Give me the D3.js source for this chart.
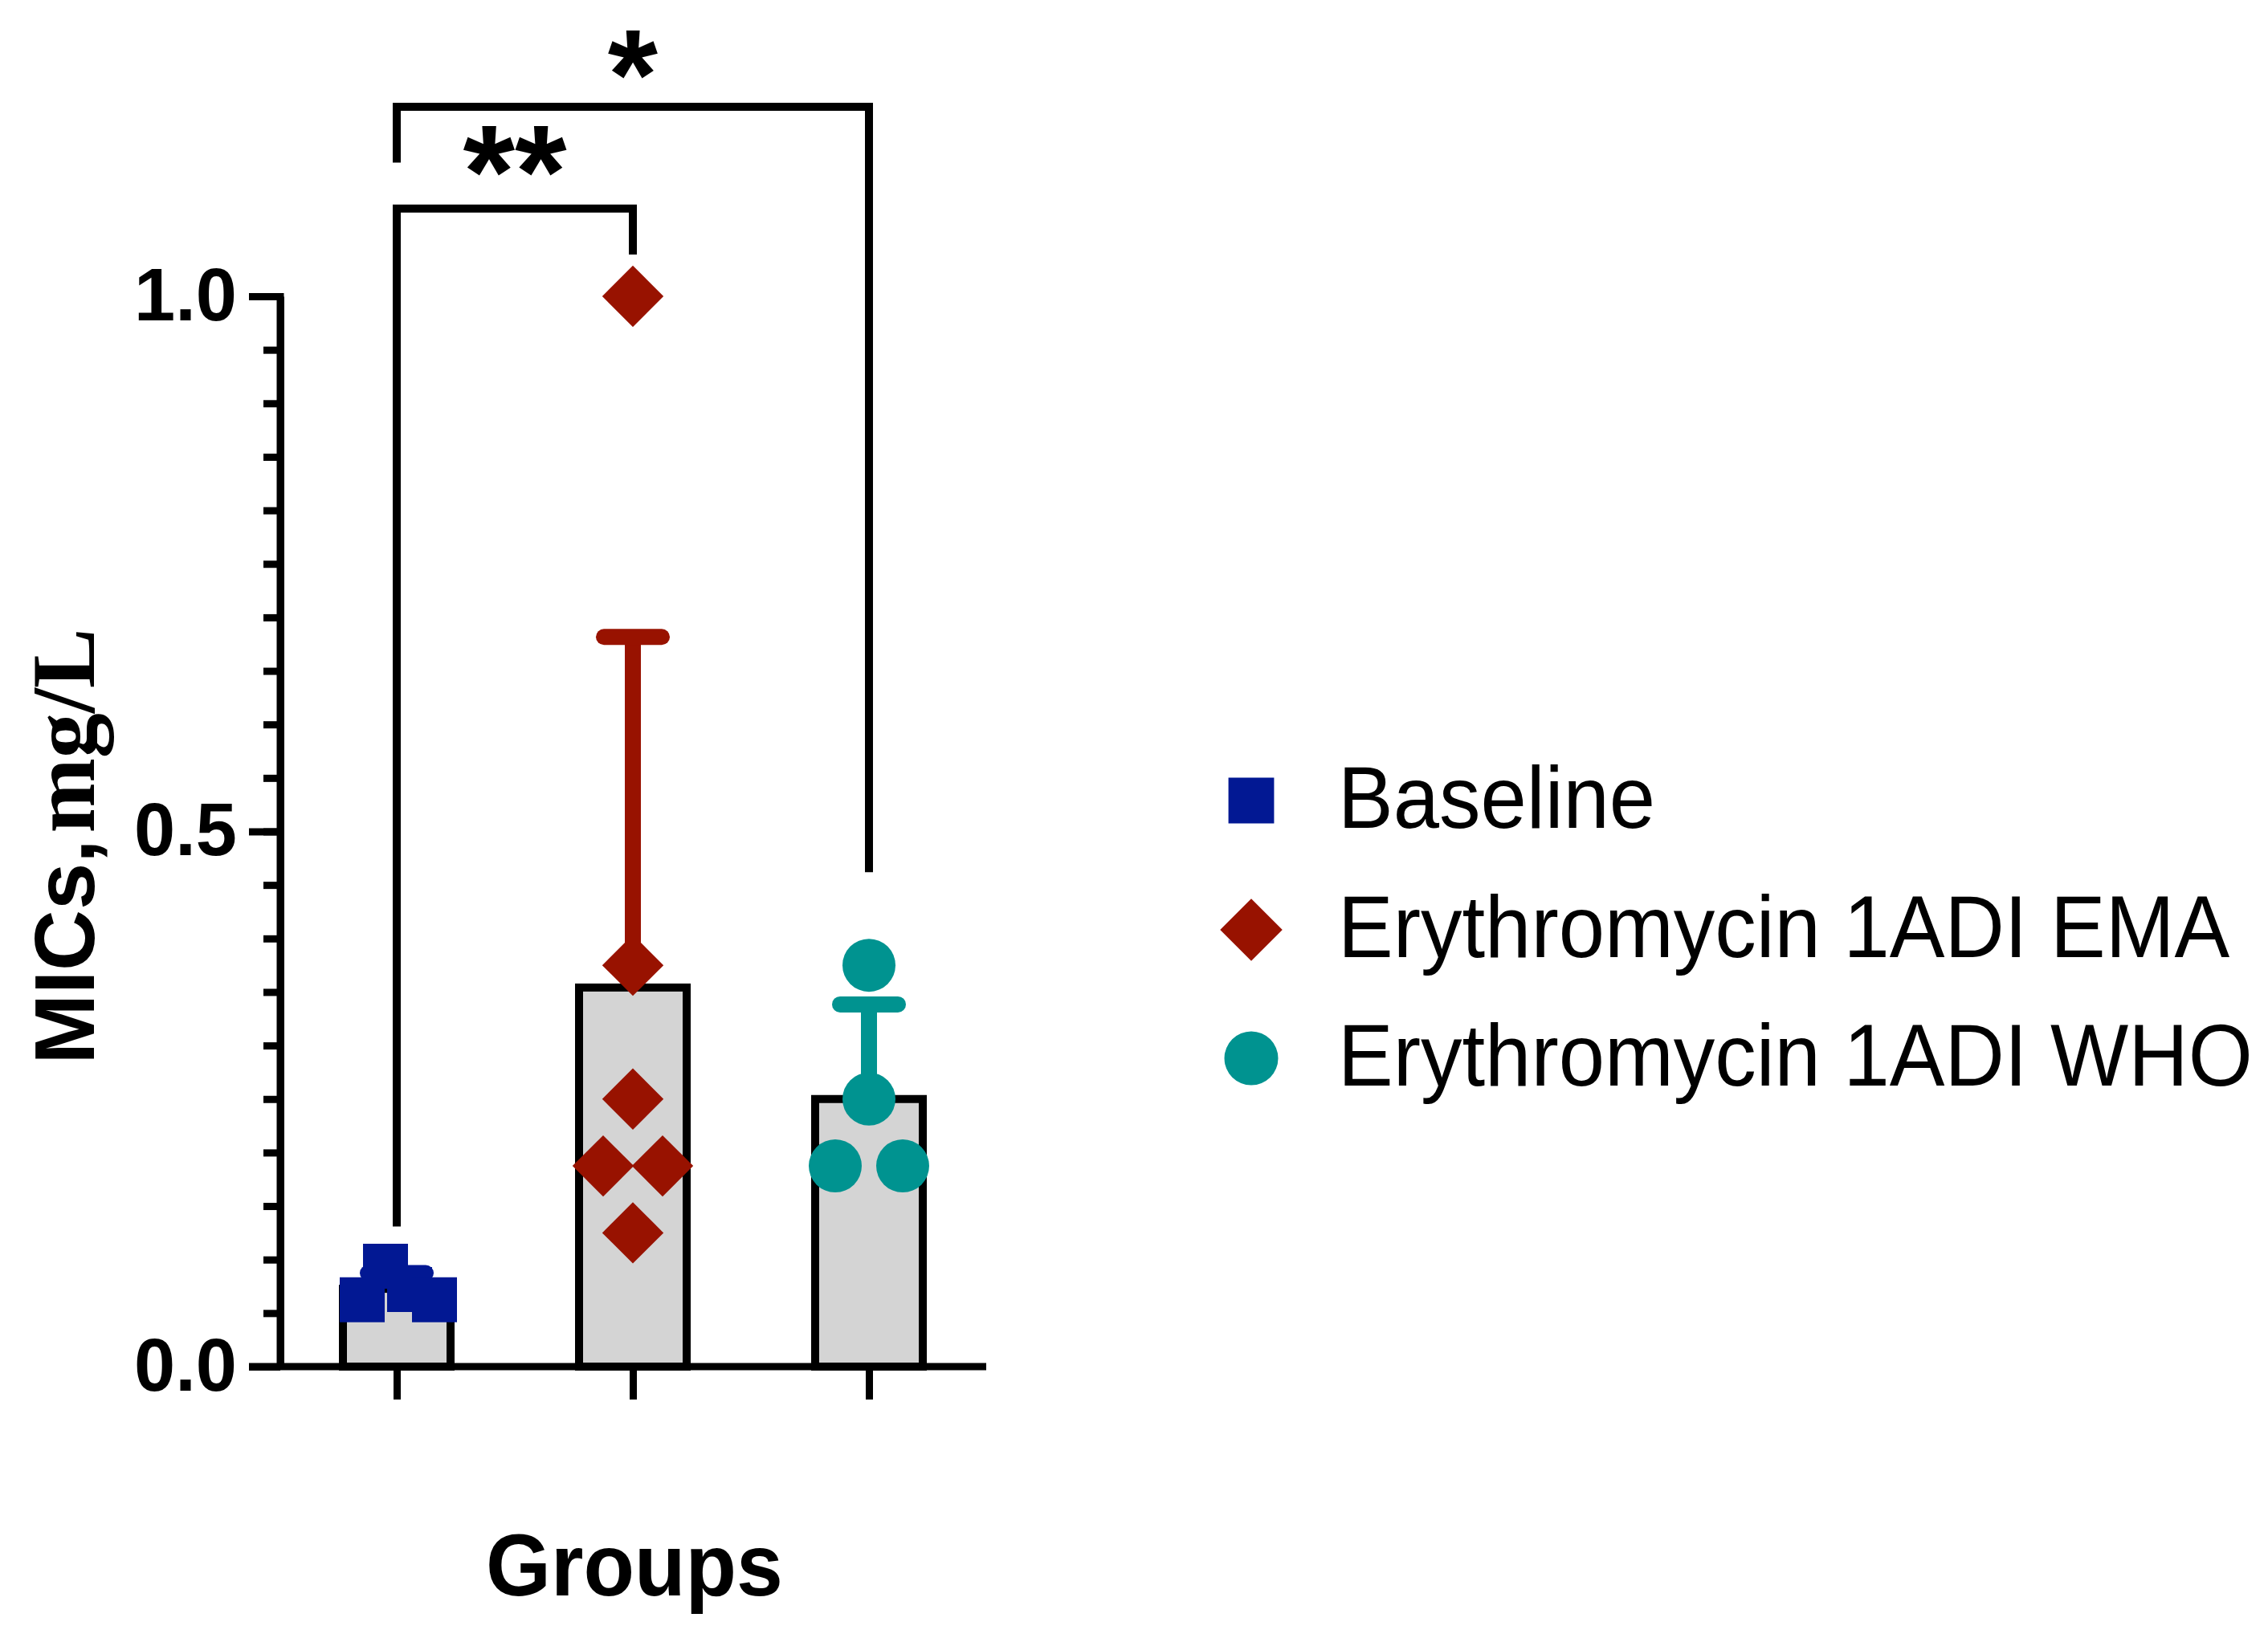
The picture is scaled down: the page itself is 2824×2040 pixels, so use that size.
<!DOCTYPE html>
<html>
<head>
<meta charset="utf-8">
<script src="https://cdn.jsdelivr.net/npm/d3@7"></script>
<style>
body { margin: 0; background: #fff; }
text { font-family: "Liberation Sans", Arial, sans-serif; }
</style>
</head>
<body>
<div id="chart-area"></div>
<script>
/*
*    MICs bar chart with scatter points
*/

// data
var groups = ["Baseline", "Erythromycin 1ADI EMA", "Erythromycin 1ADI WHO"];
var baselineValues = [0.0625, 0.09375, 0.072, 0.0625];
var emaValues = [1.0, 0.375, 0.25, 0.1875, 0.1875, 0.125];
var whoValues = [0.375, 0.25, 0.1875, 0.1875];
var majorTicks = [0, 0.5, 1.0];
var minorTicks = [0, 0.05, 0.1, 0.15, 0.2, 0.25, 0.3, 0.35, 0.4, 0.45, 0.5,
	0.55, 0.6, 0.65, 0.7, 0.75, 0.8, 0.85, 0.9, 0.95, 1.0];
var sigLabels = ["**", "*"];
var sigPairs = [[0, 1], [0, 2]];
var sigTop = [1.082, 1.177];		// bracket heights, in axis units
var sigLegEnds = [[0.131, 1.039], [1.125, 0.462]];

// layout / style
var jitter = [[-43, -14, 16, 47], [0, 0, 0, -37, 37, 0], [0, 0, -42, 42]];
var colors = ["#021893", "#981200", "#009390"];
var shapes = ["square", "diamond", "circle"];
var sigFont = [166, 160];
var sigDy = [11, 15];
var series = [baselineValues, emaValues, whoValues];

var svg = d3.select("#chart-area").append("svg").attr("width", 2824).attr("height", 2040);
svg.append("rect").attr("width", 2824).attr("height", 2040).attr("fill", "#fff");

var y = d3.scaleLinear().domain([0, 1]).range([1702, 369]);
var x = d3.scalePoint().domain(groups).range([494, 1082]);

function marker(shape, big) {
	var s = big ? 1.03 : 1;
	if (shape == "square") return d3.symbol().type(d3.symbolSquare).size(56 * 56 * s)();
	if (shape == "diamond") return d3.symbol().type(d3.symbolSquare).size(54 * 54 * s)();
	return d3.symbol().type(d3.symbolCircle).size(Math.PI * 33 * 33 * s)();
}

var g = svg.append("g");

// bars
var stats = series.map((vals, i) => {
	var m = d3.mean(vals);
	return {group: groups[i], mean: m, sd: d3.deviation(vals), i: i};
});

g.selectAll("rect.bar").data(stats).enter().append("rect")
	.attr("class", "bar")
	.attr("x", d => x(d.group) - 67)
	.attr("width", 134)
	.attr("y", d => y(d.mean))
	.attr("height", d => y(0) - y(d.mean))
	.attr("fill", "#d4d4d4")
	.attr("stroke", "#000")
	.attr("stroke-width", 10);

// error bars (upper only)
stats.forEach(d => {
	var cx = x(d.group);
	g.append("line")
		.attr("x1", cx).attr("x2", cx)
		.attr("y1", y(d.mean)).attr("y2", y(d.mean + d.sd))
		.attr("stroke", colors[d.i]).attr("stroke-width", 20);
	g.append("line")
		.attr("x1", cx - 36).attr("x2", cx + 36)
		.attr("y1", y(d.mean + d.sd)).attr("y2", y(d.mean + d.sd))
		.attr("stroke", colors[d.i]).attr("stroke-width", 20)
		.attr("stroke-linecap", "round");
});

// points
series.forEach((vals, i) => {
	g.selectAll("path.pt" + i).data(vals).enter().append("path")
		.attr("class", "pt" + i)
		.attr("d", marker(shapes[i]))
		.attr("transform", (d, j) => "translate(" + (x(groups[i]) + jitter[i][j]) + "," + y(d) + ")" +
			(shapes[i] == "diamond" ? " rotate(45)" : ""))
		.attr("fill", colors[i]);
});

// y axis
var yMinor = d3.axisLeft(y).tickValues(minorTicks).tickSize(21).tickFormat("").tickSizeOuter(0);
var yMajor = d3.axisLeft(y).tickValues(majorTicks).tickSize(39).tickPadding(15)
	.tickFormat(d3.format(".1f")).tickSizeOuter(0);

var yMinorGroup = svg.append("g").attr("transform", "translate(349,0)").call(yMinor);
var yMajorGroup = svg.append("g").attr("transform", "translate(349,0)").call(yMajor);
yMajorGroup.select(".domain").attr("d", "M0,365V1706");
[yMinorGroup, yMajorGroup].forEach(a => {
	a.selectAll("line, path").attr("stroke", "#000").attr("stroke-width", 9);
});
yMajorGroup.selectAll("text")
	.attr("font-size", "92px")
	.attr("font-weight", "bold")
	.attr("fill", "#000")
	.style("font-family", "'Liberation Sans', Arial, sans-serif");

// x axis
var xAxis = d3.axisBottom(x).tickSize(41).tickFormat("").tickSizeOuter(0);
var xAxisGroup = svg.append("g").attr("transform", "translate(0,1702)").call(xAxis);
xAxisGroup.select(".domain").attr("d", "M310,0H1228");
xAxisGroup.selectAll("line, path").attr("stroke", "#000").attr("stroke-width", 9);

// significance brackets
sigPairs.forEach((p, k) => {
	var x1 = x(groups[p[0]]), x2 = x(groups[p[1]]);
	var top = y(sigTop[k]);
	svg.append("path")
		.attr("d", "M" + x1 + "," + y(sigLegEnds[k][0]) + "V" + top + "H" + x2 + "V" + y(sigLegEnds[k][1]))
		.attr("fill", "none")
		.attr("stroke", "#000")
		.attr("stroke-width", 10);
	svg.append("text")
		.attr("x", (x1 + x2) / 2)
		.attr("y", top + sigDy[k])
		.attr("text-anchor", "middle")
		.attr("font-size", sigFont[k] + "px")
		.attr("font-weight", "bold")
		.text(sigLabels[k]);
});

// axis titles
var yTitle = svg.append("text")
	.attr("transform", "translate(117,1054) rotate(-90)")
	.attr("text-anchor", "middle")
	.attr("fill", "#000");
yTitle.append("tspan")
	.attr("font-size", "105px")
	.attr("font-weight", "bold")
	.text("MICs,");
yTitle.append("tspan")
	.attr("dx", 8)
	.attr("font-size", "112px")
	.attr("font-weight", "bold")
	.style("font-family", "'Liberation Serif', 'Times New Roman', serif")
	.text("mg/L");

svg.append("text")
	.attr("transform", "translate(790,1987) scale(1,1.05)")
	.attr("text-anchor", "middle")
	.attr("font-size", "104px")
	.attr("font-weight", "bold")
	.text("Groups");

// legend
var legendY = [997, 1158, 1318];
var legend = svg.selectAll("g.legend").data(groups).enter().append("g")
	.attr("class", "legend")
	.attr("transform", (d, i) => "translate(1558," + legendY[i] + ")");

legend.append("path")
	.attr("d", (d, i) => marker(shapes[i], true))
	.attr("transform", (d, i) => shapes[i] == "diamond" ? "rotate(45)" : null)
	.attr("fill", (d, i) => colors[i]);

legend.append("text")
	.attr("transform", "translate(108,34) scale(1,1.06)")
	.attr("font-size", "103px")
	.attr("fill", "#000")
	.text(d => d);
</script>
</body>
</html>
